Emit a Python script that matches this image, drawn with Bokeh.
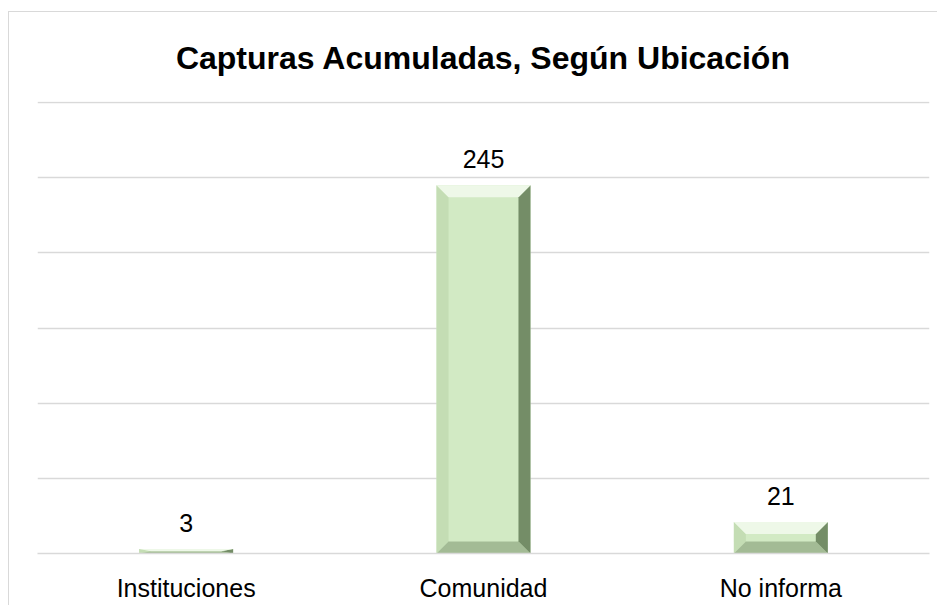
from bokeh.plotting import figure
from bokeh.models import FixedTicker, Range1d, ColumnDataSource
from bokeh.core.properties import value
from bokeh.embed import file_html
from bokeh.resources import INLINE

# ---- data ----
categories = ["Instituciones", "Comunidad", "No informa"]
capturas = [3, 245, 21]
grid_ticks = [0, 50, 100, 150, 200, 250, 300]
title_text = "Capturas Acumuladas, Según Ubicación"

# ---- layout constants ----
W, H = 929, 594
ML, MR, MT, MB = 28, 9, 88, 53
Y_MAX = 300.7
FONT = "Liberation Sans"
BAR_W = 0.316
BEVEL_PX = 12

p = figure(width=W, height=H, x_range=Range1d(0, len(categories)), y_range=Range1d(0, Y_MAX),
           output_backend="svg", toolbar_location=None,
           min_border_left=ML, min_border_right=MR, min_border_top=MT, min_border_bottom=MB,
           title=title_text)
p.styles = {"border-left": "1px solid #d9d9d9", "border-top": "1px solid #d9d9d9",
            "margin-top": "11px", "margin-left": "8px"}
p.outline_line_color = None
p.background_fill_color = "white"
p.border_fill_color = "white"

p.title.align = "center"
p.title.text_font = FONT
p.title.text_font_size = "32px"
p.title.text_font_style = "bold"
p.title.text_color = "black"
p.title.standoff = 51

# grid
p.xgrid.visible = False
p.ygrid.ticker = FixedTicker(ticks=grid_ticks)
p.ygrid.grid_line_color = "#d9d9d9"
p.ygrid.grid_line_width = 1.5
p.yaxis.visible = False

# x axis
xs = [i + 0.5 for i in range(len(categories))]
p.xaxis.ticker = FixedTicker(ticks=xs)
p.xaxis.major_label_overrides = {x: c for x, c in zip(xs, categories)}
p.xaxis.axis_line_color = "#d9d9d9"
p.xaxis.axis_line_width = 1.5
p.xaxis.major_tick_line_color = None
p.xaxis.minor_tick_line_color = None
p.xaxis.major_tick_out = 0
p.xaxis.major_label_standoff = 20
p.xaxis.major_label_text_font = FONT
p.xaxis.major_label_text_font_size = "25px"
p.xaxis.major_label_text_color = "black"

# bars
src = ColumnDataSource(dict(x=xs, top=capturas, cat=categories, lab=[str(v) for v in capturas]))
p.vbar(x="x", top="top", bottom=0, width=BAR_W, source=src, fill_color="#d2eac4", line_color=None)

# bevel facets computed from data values
px_per_x = (W - ML - MR) / len(categories)
px_per_y = (H - MT - MB) / Y_MAX
bx = BEVEL_PX / px_per_x
top_p, bot_p, left_p, right_p = ([], []), ([], []), ([], []), ([], [])
for x, h in zip(xs, capturas):
    l, r = x - BAR_W / 2, x + BAR_W / 2
    b = min(BEVEL_PX / px_per_y, h / 2.0)
    top_p[0].append([l, r, r - bx, l + bx]); top_p[1].append([h, h, h - b, h - b])
    bot_p[0].append([l, r, r - bx, l + bx]); bot_p[1].append([0, 0, b, b])
    left_p[0].append([l, l, l + bx, l + bx]); left_p[1].append([0, h, h - b, b])
    right_p[0].append([r, r, r - bx, r - bx]); right_p[1].append([0, h, h - b, b])

p.patches(left_p[0], left_p[1], fill_color="#c4ddb4", line_color=None)
p.patches(bot_p[0], bot_p[1], fill_color="#a3bb95", line_color=None)
p.patches(right_p[0], right_p[1], fill_color="#748d67", line_color=None)
p.patches(top_p[0], top_p[1], fill_color="#eef8e8", line_color=None)

# value labels
p.text(x="x", y="top", text="lab", source=src, text_align="center", text_baseline="alphabetic",
       y_offset=-26, text_font=value(FONT), text_font_size="25px", text_color="black")

open("out.html", "w").write(file_html(p, INLINE))
